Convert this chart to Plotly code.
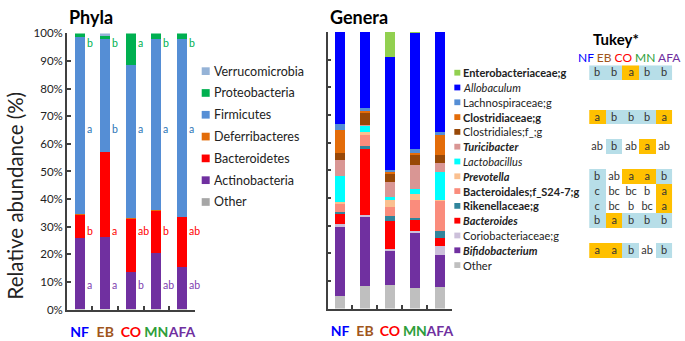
import plotly.graph_objects as go

W, H = 685, 341
FONT = "Lato"

# ---------------- data ----------------
groups = ["NF", "EB", "CO", "MN", "AFA"]
group_colors = ["#0000FF", "#A0561C", "#FF0000", "#2E9E3A", "#7030A0"]

# Phyla (stack order bottom -> top)
phyla_names = ["Other", "Actinobacteria", "Bacteroidetes", "Deferribacteres",
               "Firmicutes", "Proteobacteria", "Verrucomicrobia"]
phyla_colors = ["#A6A6A6", "#7030A0", "#FF0000", "#E36C09",
                "#558ED5", "#00B050", "#95B3D7"]
phy_other = [0.1, 0.1, 0.1, 0.1, 0.1]
phy_actino = [25.7, 26.0, 13.6, 20.5, 15.3]
phy_bacteroidetes = [8.6, 30.9, 19.0, 15.0, 18.0]
phy_deferri = [0.3, 0.1, 0.4, 0.3, 0.2]
phy_firmicutes = [64.0, 41.0, 55.3, 62.2, 64.3]
phy_proteo = [1.3, 1.0, 11.6, 1.9, 2.1]
phy_verruco = [0.0, 0.9, 0.0, 0.0, 0.0]
phyla_values = [phy_other, phy_actino, phy_bacteroidetes, phy_deferri,
                phy_firmicutes, phy_proteo, phy_verruco]

# significance letters shown next to the phyla bars
let_proteo = ["b", "b", "a", "b", "b"]
let_firmicutes = ["a", "b", "a", "a", "a"]
let_bacteroidetes = ["b", "a", "ab", "b", "ab"]
let_actino = ["a", "a", "b", "ab", "ab"]

# Genera (stack order bottom -> top)
genera_names = ["Other", "<b><i>Bifidobacterium</i></b>", "Coriobacteriaceae;g",
                "<b><i>Bacteroides</i></b>", "<b>Rikenellaceae;g</b>",
                "<b>Bacteroidales;f_S24-7;g</b>", "<b><i>Prevotella</i></b>",
                "<i>Lactobacillus</i>", "<b><i>Turicibacter</i></b>",
                "Clostridiales;f_;g", "<b>Clostridiaceae;g</b>",
                "Lachnospiraceae;g", "<i>Allobaculum</i>",
                "<b>Enterobacteriaceae;g</b>"]
genera_colors = ["#BFBFBF", "#7030A0", "#CCC0DA", "#FF0000", "#31859C",
                 "#FA8C7C", "#FAC090", "#00FFFF", "#D99694", "#984807",
                 "#E36C09", "#558ED5", "#0000FF", "#92D050"]
gen_other = [4.6, 8.1, 8.4, 7.5, 7.7]
gen_bifido = [25.2, 25.0, 12.5, 20.0, 11.5]
gen_corio = [0.6, 0.7, 0.8, 0.4, 3.3]
gen_bacteroides = [3.9, 24.0, 10.0, 4.0, 3.0]
gen_rikenell = [0.5, 1.0, 1.7, 1.0, 2.6]
gen_s24 = [3.2, 4.1, 3.5, 6.3, 10.8]
gen_prevotella = [0.4, 0.9, 2.2, 2.2, 0.3]
gen_lacto = [9.7, 2.5, 1.3, 1.8, 10.2]
gen_turici = [5.6, 0.2, 5.3, 8.8, 3.4]
gen_clostridiales = [2.7, 4.5, 3.3, 3.8, 2.9]
gen_clostridiaceae = [8.3, 0.4, 0.3, 0.3, 7.0]
gen_lachno = [1.9, 1.3, 0.9, 1.7, 1.1]
gen_allobac = [33.4, 27.3, 40.8, 42.0, 36.2]
gen_entero = [0.0, 0.0, 9.0, 0.2, 0.0]
genera_values = [gen_other, gen_bifido, gen_corio, gen_bacteroides, gen_rikenell,
                 gen_s24, gen_prevotella, gen_lacto, gen_turici, gen_clostridiales,
                 gen_clostridiaceae, gen_lachno, gen_allobac, gen_entero]

# Tukey table (rows follow the genera legend, top -> bottom)
tukey_entero = ["b", "b", "a", "b", "b"]
tukey_clostridiaceae = ["a", "b", "b", "b", "a"]
tukey_turici = ["ab", "b", "ab", "a", "ab"]
tukey_prevotella = ["b", "ab", "a", "a", "b"]
tukey_s24 = ["c", "bc", "bc", "b", "a"]
tukey_rikenell = ["c", "bc", "b", "bc", "a"]
tukey_bacteroides = ["b", "a", "b", "b", "b"]
tukey_bifido = ["a", "a", "b", "ab", "b"]
# cell shading: 0 = none, 1 = lowest group (blue), 2 = highest group (orange)
shade_entero = [1, 1, 2, 1, 1]
shade_clostridiaceae = [2, 1, 1, 1, 2]
shade_turici = [0, 1, 0, 2, 0]
shade_prevotella = [1, 0, 2, 2, 1]
shade_s24 = [1, 0, 0, 0, 2]
shade_rikenell = [1, 0, 0, 0, 2]
shade_bacteroides = [1, 2, 1, 1, 1]
shade_bifido = [2, 2, 1, 0, 1]

# ---------------- helpers ----------------
def fx(px):
    return px / W


def fy(py):
    return 1 - py / H


fig = go.Figure()

# Phyla bars
for name, color, vals in zip(phyla_names, phyla_colors, phyla_values):
    fig.add_trace(go.Bar(x=groups, y=vals, name=name, marker_color=color,
                         marker_line_width=0, width=0.4, showlegend=False,
                         xaxis="x", yaxis="y", hoverinfo="skip"))

# Genera bars
for name, color, vals in zip(genera_names, genera_colors, genera_values):
    fig.add_trace(go.Bar(x=groups, y=vals, name=name, marker_color=color,
                         marker_line_width=0, width=0.4, showlegend=False,
                         xaxis="x2", yaxis="y2", hoverinfo="skip"))

# Tukey heatmap
legend_order = list(reversed(genera_names))  # top -> bottom
tukey_map = {
    "<b>Enterobacteriaceae;g</b>": (tukey_entero, shade_entero),
    "<b>Clostridiaceae;g</b>": (tukey_clostridiaceae, shade_clostridiaceae),
    "<b><i>Turicibacter</i></b>": (tukey_turici, shade_turici),
    "<b><i>Prevotella</i></b>": (tukey_prevotella, shade_prevotella),
    "<b>Bacteroidales;f_S24-7;g</b>": (tukey_s24, shade_s24),
    "<b>Rikenellaceae;g</b>": (tukey_rikenell, shade_rikenell),
    "<b><i>Bacteroides</i></b>": (tukey_bacteroides, shade_bacteroides),
    "<b><i>Bifidobacterium</i></b>": (tukey_bifido, shade_bifido),
}
z, txt = [], []
for nm in legend_order:
    if nm in tukey_map:
        letters, shade = tukey_map[nm]
        z.append(shade)
        txt.append(letters)
    else:
        z.append([None] * 5)
        txt.append([""] * 5)

fig.add_trace(go.Heatmap(
    x=list(range(5)), y=list(range(len(legend_order))), z=z, text=txt,
    texttemplate="%{text}", textfont=dict(family=FONT, size=11, color="#333333"),
    zmin=0, zmax=2, showscale=False, hoverinfo="skip",
    colorscale=[[0, "#FFFFFF"], [0.333, "#FFFFFF"], [0.333, "#B7DEE8"],
                [0.667, "#B7DEE8"], [0.667, "#FFC000"], [1, "#FFC000"]],
    xaxis="x3", yaxis="y3"))

tick_text = [f"<span style='color:{c}'><b>{g}</b></span>" for g, c in zip(groups, group_colors)]
axis_line = dict(showline=True, linecolor="#404040", linewidth=1.5, ticks="inside",
                 tickcolor="#404040", ticklen=4, tickwidth=1.5, showgrid=False,
                 zeroline=False)

fig.update_layout(
    width=W, height=H, margin=dict(l=0, r=0, t=0, b=0),
    paper_bgcolor="white", plot_bgcolor="white",
    barmode="stack", showlegend=False,
    font=dict(family=FONT, color="#222222"),
    xaxis=dict(domain=[fx(67), fx(195)], anchor="y", tickson="boundaries",
               range=[-0.5, 4.5], tickangle=0,
               tickmode="array", tickvals=groups, ticktext=tick_text,
               tickfont=dict(size=14), ticklabelstandoff=9, **axis_line),
    yaxis=dict(domain=[fy(314.5), fy(27.5)], anchor="x", range=[0, 100],
               tickvals=list(range(0, 101, 10)),
               ticktext=[f"{v}%" for v in range(0, 101, 10)],
               tickfont=dict(size=11.5), **axis_line),
    xaxis2=dict(domain=[fx(328), fx(453)], anchor="y2", tickson="boundaries",
                range=[-0.5, 4.5], tickangle=0,
                tickmode="array", tickvals=groups, ticktext=tick_text,
                tickfont=dict(size=14), ticklabelstandoff=9, **axis_line),
    yaxis2=dict(domain=[fy(313.5), fy(26)], anchor="x2", range=[0, 100],
                tickvals=list(range(0, 101, 10)), showticklabels=False, **axis_line),
    xaxis3=dict(domain=[fx(590), fx(673.3)], anchor="y3", range=[-0.5, 4.5],
                visible=False),
    yaxis3=dict(domain=[fy(68.3 + 13.5 * 15.385), fy(68.3 - 0.5 * 15.385)], anchor="x3",
                range=[len(legend_order) - 0.5, -0.5], visible=False),
)

ann = []
shapes = []

# titles
ann.append(dict(text="<b>Phyla</b>", x=fx(67), y=fy(10), xref="paper", yref="paper",
                xanchor="left", yanchor="middle", showarrow=False,
                font=dict(size=18, color="#000000")))
ann.append(dict(text="<b>Genera</b>", x=fx(328), y=fy(10), xref="paper", yref="paper",
                xanchor="left", yanchor="middle", showarrow=False,
                font=dict(size=18, color="#000000")))
ann.append(dict(text="Relative abundance (%)", x=fx(15), y=fy(196), xref="paper",
                yref="paper", textangle=-90, showarrow=False, xanchor="center",
                yanchor="middle", font=dict(size=20.5, color="#222222")))

# phyla letters
letter_rows = [(let_proteo, 96.5, "#00B050"), (let_firmicutes, 65.5, "#2E75B6"),
               (let_bacteroidetes, 28.5, "#FF0000"), (let_actino, 8.7, "#8040B0")]
for letters, yv, col in letter_rows:
    for g, l in zip(groups, letters):
        ann.append(dict(text=l, x=g, y=yv, xref="x", yref="y", xanchor="left",
                        yanchor="middle", xshift=5, showarrow=False,
                        font=dict(size=10.5, color=col)))

# phyla legend (top -> bottom)
for i, (name, col) in enumerate(zip(reversed(phyla_names), reversed(phyla_colors))):
    yc = 66.7 + i * 22.67
    shapes.append(dict(type="rect", xref="paper", yref="paper", x0=fx(202), x1=fx(210),
                       y0=fy(yc + 4), y1=fy(yc - 4), fillcolor=col, line_width=0))
    ann.append(dict(text=name, x=fx(212), y=fy(yc), xref="paper", yref="paper",
                    xanchor="left", yanchor="middle", showarrow=False,
                    font=dict(size=12.5, color="#222222")))

# genera legend (top -> bottom)
for i, (name, col) in enumerate(zip(reversed(genera_names), reversed(genera_colors))):
    yc = 68.3 + i * 15.385
    shapes.append(dict(type="rect", xref="paper", yref="paper", x0=fx(455), x1=fx(461),
                       y0=fy(yc + 3), y1=fy(yc - 3), fillcolor=col, line_width=0))
    ann.append(dict(text=name, x=fx(462), y=fy(yc), xref="paper", yref="paper",
                    xanchor="left", yanchor="middle", showarrow=False,
                    font=dict(size=11, color="#222222")))

# Tukey header
ann.append(dict(text="<b>Tukey*</b>", x=fx(617), y=fy(33), xref="paper", yref="paper",
                xanchor="center", yanchor="middle", showarrow=False,
                font=dict(size=15, color="#000000")))
header = " ".join(f"<span style='color:{c}'>{g}</span>" for g, c in zip(groups, group_colors))
ann.append(dict(text=header, x=fx(684), y=fy(52.5), xref="paper", yref="paper",
                xanchor="right", yanchor="middle", showarrow=False,
                font=dict(size=12)))

fig.update_layout(annotations=ann, shapes=shapes)
fig.write_html("out.html", config={"displayModeBar": False},
               post_script="document.body.style.margin='0';document.body.style.padding='0';")
